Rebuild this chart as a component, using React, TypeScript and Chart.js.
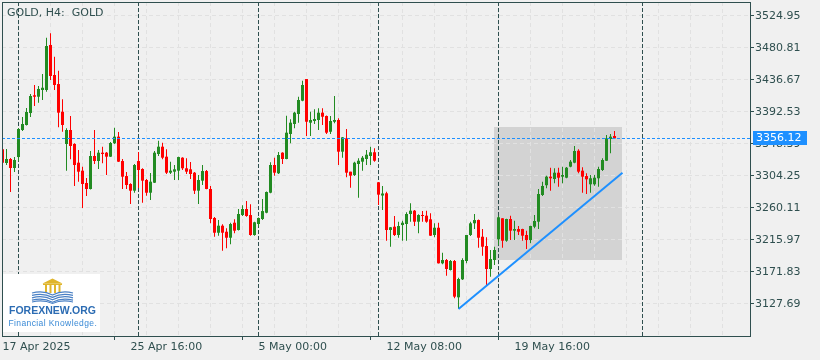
import React, { useEffect, useRef } from 'react';
import { Chart, registerables } from 'chart.js';

Chart.register(...registerables);

// ---- data (GOLD H4 candles) ----
const opens = [
  3341.1, 3322.2, 3327.7, 3315.3, 3330.4, 3367.7, 3374.6, 3391.1, 3415.6, 3413.6,
  3422.9, 3422.9, 3485.0, 3443.6, 3431.1, 3392.9, 3348.4, 3367.7, 3348.4, 3322.6,
  3311.6, 3294.6, 3286.3, 3331.8, 3324.9, 3336.4, 3336.4, 3330.9, 3349.4, 3358.5,
  3324.9, 3304.2, 3293.2, 3284.0, 3324.9, 3313.9, 3298.7, 3281.2, 3295.0, 3334.6,
  3344.7, 3330.9, 3308.8, 3310.2, 3311.6, 3329.5, 3314.9, 3313.5, 3308.8, 3284.0,
  3297.8, 3311.1, 3286.3, 3246.3, 3226.0, 3235.7, 3227.4, 3219.1, 3239.8, 3229.8,
  3250.4, 3258.7, 3250.4, 3222.9, 3238.0, 3244.9, 3253.6, 3281.2, 3319.4, 3308.0,
  3336.4, 3327.7, 3362.2, 3376.0, 3389.8, 3408.1, 3438.0, 3377.8, 3380.1, 3381.5,
  3391.6, 3387.0, 3365.3, 3379.1, 3381.5, 3337.8, 3356.2, 3310.2, 3305.6, 3320.8,
  3324.0, 3327.7, 3331.8, 3337.0, 3295.6, 3277.3, 3280.4, 3229.8, 3234.3, 3222.9,
  3236.6, 3238.0, 3251.8, 3256.4, 3241.2, 3250.4, 3249.5, 3244.5, 3222.9, 3232.9,
  3183.8, 3188.4, 3174.6, 3187.0, 3136.9, 3161.7, 3187.0, 3222.9, 3239.0, 3243.5,
  3220.5, 3207.7, 3176.0, 3188.4, 3216.9, 3245.9, 3215.0, 3244.9, 3228.8, 3231.1,
  3231.1, 3222.9, 3215.9, 3234.3, 3241.2, 3278.0, 3291.5, 3303.3, 3300.1, 3308.8,
  3303.3, 3301.9, 3317.1, 3322.6, 3339.1, 3311.6, 3304.2, 3292.8, 3292.8, 3301.1,
  3312.5, 3325.3, 3355.3, 3359.4,
];
const highs = [
  3344.3, 3341.5, 3329.1, 3330.4, 3370.4, 3385.6, 3398.0, 3417.4, 3429.8, 3428.4,
  3444.9, 3495.0, 3501.1, 3468.8, 3449.5, 3410.0, 3370.0, 3387.0, 3349.3, 3340.1,
  3317.1, 3301.5, 3338.7, 3367.7, 3340.1, 3344.7, 3337.3, 3351.2, 3370.9, 3364.9,
  3327.7, 3309.8, 3294.2, 3320.8, 3337.4, 3314.9, 3300.1, 3308.4, 3338.7, 3352.9,
  3350.2, 3341.1, 3324.0, 3319.4, 3330.9, 3330.0, 3328.6, 3323.5, 3309.8, 3305.6,
  3319.4, 3312.5, 3290.5, 3247.7, 3243.5, 3237.6, 3232.1, 3239.8, 3244.5, 3258.7,
  3263.8, 3269.8, 3265.2, 3241.2, 3247.0, 3272.5, 3282.9, 3323.1, 3329.5, 3337.4,
  3337.0, 3387.4, 3382.4, 3392.9, 3413.6, 3435.7, 3438.0, 3392.9, 3396.3, 3397.6,
  3397.6, 3387.7, 3387.0, 3414.6, 3383.8, 3358.0, 3369.1, 3310.2, 3324.0, 3328.6,
  3331.8, 3340.1, 3344.7, 3342.5, 3296.0, 3290.5, 3282.6, 3233.9, 3249.1, 3241.2,
  3242.6, 3254.2, 3266.6, 3257.3, 3251.4, 3255.9, 3256.4, 3252.8, 3239.0, 3239.8,
  3198.4, 3189.8, 3188.4, 3188.4, 3163.9, 3190.7, 3222.9, 3241.2, 3251.8, 3244.3,
  3231.1, 3219.7, 3202.2, 3206.7, 3249.5, 3245.9, 3245.3, 3249.5, 3242.6, 3235.3,
  3231.5, 3228.8, 3235.7, 3250.4, 3286.3, 3296.4, 3304.7, 3315.7, 3314.9, 3315.7,
  3317.1, 3316.7, 3326.3, 3345.6, 3341.1, 3316.2, 3307.9, 3305.6, 3305.6, 3317.1,
  3328.6, 3360.8, 3362.2, 3366.3,
];
const lows = [
  3319.4, 3319.4, 3282.2, 3309.8, 3324.9, 3366.3, 3373.9, 3385.6, 3400.8, 3405.4,
  3409.1, 3420.5, 3436.7, 3422.9, 3371.4, 3365.3, 3311.6, 3327.3, 3290.5, 3296.4,
  3260.1, 3276.7, 3285.6, 3320.8, 3313.9, 3321.8, 3305.6, 3330.4, 3348.4, 3323.6,
  3286.3, 3286.3, 3265.6, 3281.2, 3287.7, 3267.4, 3277.1, 3271.1, 3294.6, 3331.8,
  3327.3, 3307.0, 3307.0, 3298.7, 3298.7, 3312.5, 3307.0, 3300.1, 3279.4, 3265.6,
  3291.8, 3285.9, 3239.0, 3220.5, 3221.9, 3201.2, 3204.5, 3210.0, 3225.2, 3229.1,
  3249.1, 3248.1, 3221.9, 3221.9, 3234.3, 3243.5, 3252.8, 3280.4, 3304.7, 3307.0,
  3320.8, 3327.3, 3349.4, 3370.0, 3377.8, 3407.3, 3359.4, 3359.4, 3376.0, 3367.7,
  3374.6, 3362.2, 3362.2, 3376.9, 3319.4, 3329.5, 3302.4, 3288.1, 3304.2, 3274.3,
  3311.6, 3319.4, 3319.4, 3324.0, 3264.2, 3257.3, 3215.0, 3206.7, 3221.5, 3219.1,
  3215.0, 3215.0, 3241.2, 3235.3, 3225.2, 3241.2, 3239.8, 3221.5, 3219.7, 3183.5,
  3182.4, 3166.7, 3173.9, 3135.5, 3120.8, 3160.8, 3183.8, 3221.5, 3231.1, 3205.3,
  3194.3, 3152.9, 3165.3, 3181.5, 3209.0, 3205.3, 3213.6, 3215.9, 3215.9, 3222.9,
  3215.0, 3203.5, 3211.4, 3232.1, 3231.1, 3276.7, 3287.3, 3284.0, 3294.2, 3289.5,
  3294.2, 3301.1, 3316.2, 3321.8, 3307.9, 3281.2, 3279.4, 3281.2, 3290.9, 3289.5,
  3311.1, 3324.9, 3335.5, 3355.8,
];
const closes = [
  3322.6, 3327.7, 3315.3, 3326.3, 3369.1, 3376.0, 3392.5, 3414.6, 3413.6, 3424.3,
  3426.0, 3483.6, 3442.2, 3429.8, 3391.6, 3374.6, 3367.7, 3345.6, 3319.4, 3310.2,
  3293.2, 3286.3, 3331.8, 3324.9, 3336.4, 3334.6, 3330.9, 3349.8, 3358.5, 3324.0,
  3303.3, 3291.8, 3284.0, 3319.4, 3312.5, 3297.8, 3281.2, 3296.4, 3336.4, 3344.7,
  3329.5, 3308.8, 3311.6, 3313.5, 3330.4, 3314.9, 3310.2, 3307.0, 3284.0, 3298.7,
  3311.1, 3286.3, 3244.9, 3226.0, 3235.7, 3226.0, 3219.1, 3238.0, 3228.8, 3251.8,
  3258.7, 3249.1, 3222.9, 3240.4, 3246.3, 3255.9, 3282.2, 3319.4, 3308.8, 3333.2,
  3327.7, 3364.0, 3377.8, 3391.6, 3409.1, 3429.8, 3379.1, 3381.5, 3382.9, 3391.6,
  3386.0, 3364.0, 3380.1, 3381.5, 3337.8, 3357.6, 3308.8, 3304.7, 3322.6, 3325.3,
  3329.5, 3333.6, 3337.0, 3325.3, 3278.5, 3280.1, 3229.8, 3233.5, 3222.9, 3235.3,
  3239.8, 3251.8, 3256.4, 3241.2, 3250.4, 3249.1, 3241.2, 3221.9, 3232.9, 3183.8,
  3188.4, 3176.0, 3187.0, 3137.8, 3162.2, 3188.4, 3222.9, 3239.0, 3243.5, 3219.1,
  3206.7, 3176.0, 3189.8, 3202.2, 3247.3, 3215.0, 3244.9, 3228.8, 3231.1, 3227.4,
  3221.9, 3215.9, 3235.3, 3242.2, 3279.4, 3290.5, 3303.3, 3301.1, 3308.8, 3301.9,
  3305.6, 3315.7, 3324.0, 3338.7, 3310.2, 3303.3, 3299.7, 3301.1, 3301.9, 3313.9,
  3326.3, 3356.2, 3358.5, 3356.12,
];

const lastPrice = 3356.12;
const yTicks = [3524.95, 3480.81, 3436.67, 3392.53, 3348.39, 3304.25, 3260.11, 3215.97, 3171.83, 3127.69];
const yMin = 3083.55;
const yMax = 3544.26;

const xLabelIdx = [0, 32, 64, 96, 128];
const xLabels = ['17 Apr 2025', '25 Apr 16:00', '5 May 00:00', '12 May 08:00', '19 May 16:00'];
const xSlots = 187;
const gridEvery = 8;

const separatorIdx = [4, 34, 64, 94, 124, 160];

const trendX = [114, 155];
const trendY = [3120.8, 3308.8];

const rectX = [123, 155];
const rectY = [3187.4, 3371.4];

// ---- styles ----
const BG = '#f0f0f0';
const FG = '#2f4f4f';
const GRID = '#e1e1e1';
const UP = '#228b22';
const DOWN = '#ff0000';
const BLUE = '#1e90ff';
const FONT = '"DejaVu Sans", sans-serif';

const overlay = {
  id: 'mtOverlay',
  beforeDraw(chart: any) {
    const { ctx, scales } = chart;
    const x = scales.x;
    const y = scales.y;
    ctx.save();
    ctx.fillStyle = BG;
    ctx.fillRect(0, 0, chart.width, chart.height);
    const x1 = x.getPixelForValue(rectX[0]);
    const x2 = x.getPixelForValue(rectX[1]);
    const y1 = y.getPixelForValue(rectY[1]);
    const y2 = y.getPixelForValue(rectY[0]);
    ctx.fillStyle = '#d3d3d3';
    ctx.fillRect(Math.floor(x1), Math.round(y1), Math.round(x2 - x1), Math.round(y2 - y1));
    ctx.restore();
  },
  beforeDatasetsDraw(chart: any) {
    const { ctx, chartArea: a, scales } = chart;
    const x = scales.x;
    ctx.save();
    ctx.strokeStyle = FG;
    ctx.lineWidth = 1;
    ctx.setLineDash([4, 2]);
    separatorIdx.forEach((k) => {
      const px = Math.floor(x.getPixelForValue(k)) + 0.5;
      ctx.beginPath();
      ctx.moveTo(px, a.top);
      ctx.lineTo(px, a.bottom);
      ctx.stroke();
    });
    ctx.restore();
  },
  afterDatasetsDraw(chart: any) {
    const { ctx, chartArea: a, scales } = chart;
    const py = Math.floor(scales.y.getPixelForValue(lastPrice)) + 0.5;
    ctx.save();
    ctx.strokeStyle = BLUE;
    ctx.lineWidth = 1;
    ctx.setLineDash([3, 2]);
    ctx.beginPath();
    ctx.moveTo(a.left, py);
    ctx.lineTo(a.right, py);
    ctx.stroke();
    ctx.restore();
  },
  afterDraw(chart: any) {
    const { ctx, chartArea: a, scales } = chart;
    ctx.save();
    // frame
    ctx.strokeStyle = FG;
    ctx.lineWidth = 1;
    ctx.setLineDash([]);
    ctx.strokeRect(a.left + 0.5, a.top + 0.5, a.right - a.left, a.bottom - a.top);
    // title
    ctx.fillStyle = FG;
    ctx.font = `11px ${FONT}`;
    ctx.textAlign = 'left';
    ctx.textBaseline = 'alphabetic';
    ctx.fillText('GOLD, H4:  GOLD', 7, 16);
    // price label
    const py = Math.floor(scales.y.getPixelForValue(lastPrice));
    ctx.fillStyle = BLUE;
    ctx.fillRect(a.right + 3, py - 7, 54, 14);
    ctx.fillStyle = '#ffffff';
    ctx.textBaseline = 'middle';
    ctx.fillText(lastPrice.toFixed(2), a.right + 6, py + 0.5);
    // logo
    ctx.fillStyle = '#ffffff';
    ctx.fillRect(3, 274, 97, 58);
    const gold = '#e0b52c';
    ctx.fillStyle = gold;
    ctx.beginPath();
    ctx.moveTo(42.5, 283.5);
    ctx.lineTo(52.5, 278.5);
    ctx.lineTo(62.5, 283.5);
    ctx.closePath();
    ctx.fill();
    ctx.fillRect(43, 283.5, 19, 1.5);
    [45, 49.5, 54, 58.5].forEach((cx) => ctx.fillRect(cx, 285, 2, 8));
    const bookBlue = '#4a80c4';
    ctx.strokeStyle = bookBlue;
    ctx.lineWidth = 1.2;
    for (let i = 0; i < 4; i++) {
      const yy = 292 + i * 2.4;
      ctx.beginPath();
      ctx.moveTo(32, yy + 1);
      ctx.quadraticCurveTo(43, yy - 2, 52.5, yy + 3);
      ctx.quadraticCurveTo(62, yy - 2, 73, yy + 1);
      ctx.stroke();
    }
    ctx.fillStyle = bookBlue;
    ctx.beginPath();
    ctx.moveTo(32, 301.5);
    ctx.quadraticCurveTo(43, 298.5, 52.5, 303);
    ctx.quadraticCurveTo(62, 298.5, 73, 301.5);
    ctx.lineTo(73, 302.5);
    ctx.quadraticCurveTo(62, 300, 52.5, 304);
    ctx.quadraticCurveTo(43, 300, 32, 302.5);
    ctx.closePath();
    ctx.fill();
    ctx.textAlign = 'center';
    ctx.textBaseline = 'alphabetic';
    ctx.fillStyle = '#2c6cb3';
    ctx.font = 'bold 10.5px "Liberation Sans", sans-serif';
    ctx.fillText('FOREXNEW.ORG', 52.5, 314);
    ctx.fillStyle = '#3a8ad6';
    ctx.font = '8.5px "Liberation Sans", sans-serif';
    (ctx as any).letterSpacing = '0.4px';
    ctx.fillText('Financial Knowledge.', 52.8, 325.5);
    (ctx as any).letterSpacing = '0px';
    ctx.restore();
  },
};

export default function App() {
  const ref = useRef<HTMLCanvasElement>(null);

  useEffect(() => {
    document.body.style.margin = '0';
    const canvas = ref.current;
    if (!canvas) return;
    const n = closes.length;
    const idx = Array.from({ length: n }, (_, i) => i);
    const colors = idx.map((i) => (closes[i] >= opens[i] ? UP : DOWN));
    const gridTicks: number[] = [];
    for (let k = 0; k < xSlots; k += gridEvery) gridTicks.push(k);
    const labelAt = (v: number) => {
      const j = xLabelIdx.indexOf(Math.round(v));
      return j >= 0 ? xLabels[j] : '';
    };

    const chart = new Chart(canvas, {
      type: 'bar',
      data: {
        datasets: [
          {
            type: 'line',
            data: trendX.map((xv, i) => ({ x: xv, y: trendY[i] })),
            borderColor: BLUE,
            borderWidth: 2,
            pointRadius: 0,
            order: 0,
          } as any,
          {
            type: 'bar',
            data: idx.map((i) => ({ x: i, y: [lows[i], highs[i]] })),
            backgroundColor: colors,
            barThickness: 1,
            grouped: false,
            inflateAmount: 0,
            borderWidth: 0,
            order: 2,
          } as any,
          {
            type: 'bar',
            data: idx.map((i) => ({ x: i, y: [opens[i], closes[i]] })),
            backgroundColor: colors,
            barThickness: 3,
            grouped: false,
            minBarLength: 1,
            inflateAmount: 0,
            borderWidth: 0,
            order: 1,
          } as any,
        ],
      },
      options: {
        animation: false,
        responsive: false,
        devicePixelRatio: 1,
        events: [],
        layout: { padding: { left: 2, top: 2, right: 0, bottom: 0 } },
        plugins: { legend: { display: false }, tooltip: { enabled: false } },
        scales: {
          x: {
            type: 'linear',
            min: -0.125,
            max: xSlots - 0.125,
            offset: false,
            afterBuildTicks: (s: any) => {
              s.ticks = gridTicks.map((v) => ({ value: v }));
            },
            afterFit: (s: any) => {
              s.height = 24;
              s.paddingLeft = 0;
              s.paddingRight = 0;
              s.paddingTop = 0;
              s.paddingBottom = 0;
            },
            ticks: {
              autoSkip: false,
              maxRotation: 0,
              minRotation: 0,
              align: 'start',
              padding: 1,
              color: FG,
              font: { family: FONT, size: 11 },
              callback: (v: any) => labelAt(Number(v)),
            },
            grid: {
              color: GRID,
              lineWidth: 1,
              tickLength: 4,
              tickColor: (c: any) => (c.tick && labelAt(c.tick.value) ? FG : 'rgba(0,0,0,0)'),
            },
            border: { display: false, dash: [4, 3] },
          },
          y: {
            type: 'linear',
            position: 'right',
            min: yMin,
            max: yMax,
            afterBuildTicks: (s: any) => {
              s.ticks = yTicks.map((v) => ({ value: v }));
            },
            afterFit: (s: any) => {
              s.width = 70;
              s.paddingTop = 0;
              s.paddingBottom = 0;
              s.paddingLeft = 0;
              s.paddingRight = 0;
            },
            ticks: {
              autoSkip: false,
              padding: 1,
              color: FG,
              font: { family: FONT, size: 11 },
              callback: (v: any) => Number(v).toFixed(2),
            },
            grid: {
              color: GRID,
              lineWidth: 1,
              tickLength: 4,
              tickColor: FG,
            },
            border: { display: false, dash: [4, 3] },
          },
        },
      } as any,
      plugins: [overlay],
    });
    return () => chart.destroy();
  }, []);

  return <canvas ref={ref} width={820} height={360} style={{ display: 'block' }} />;
}
